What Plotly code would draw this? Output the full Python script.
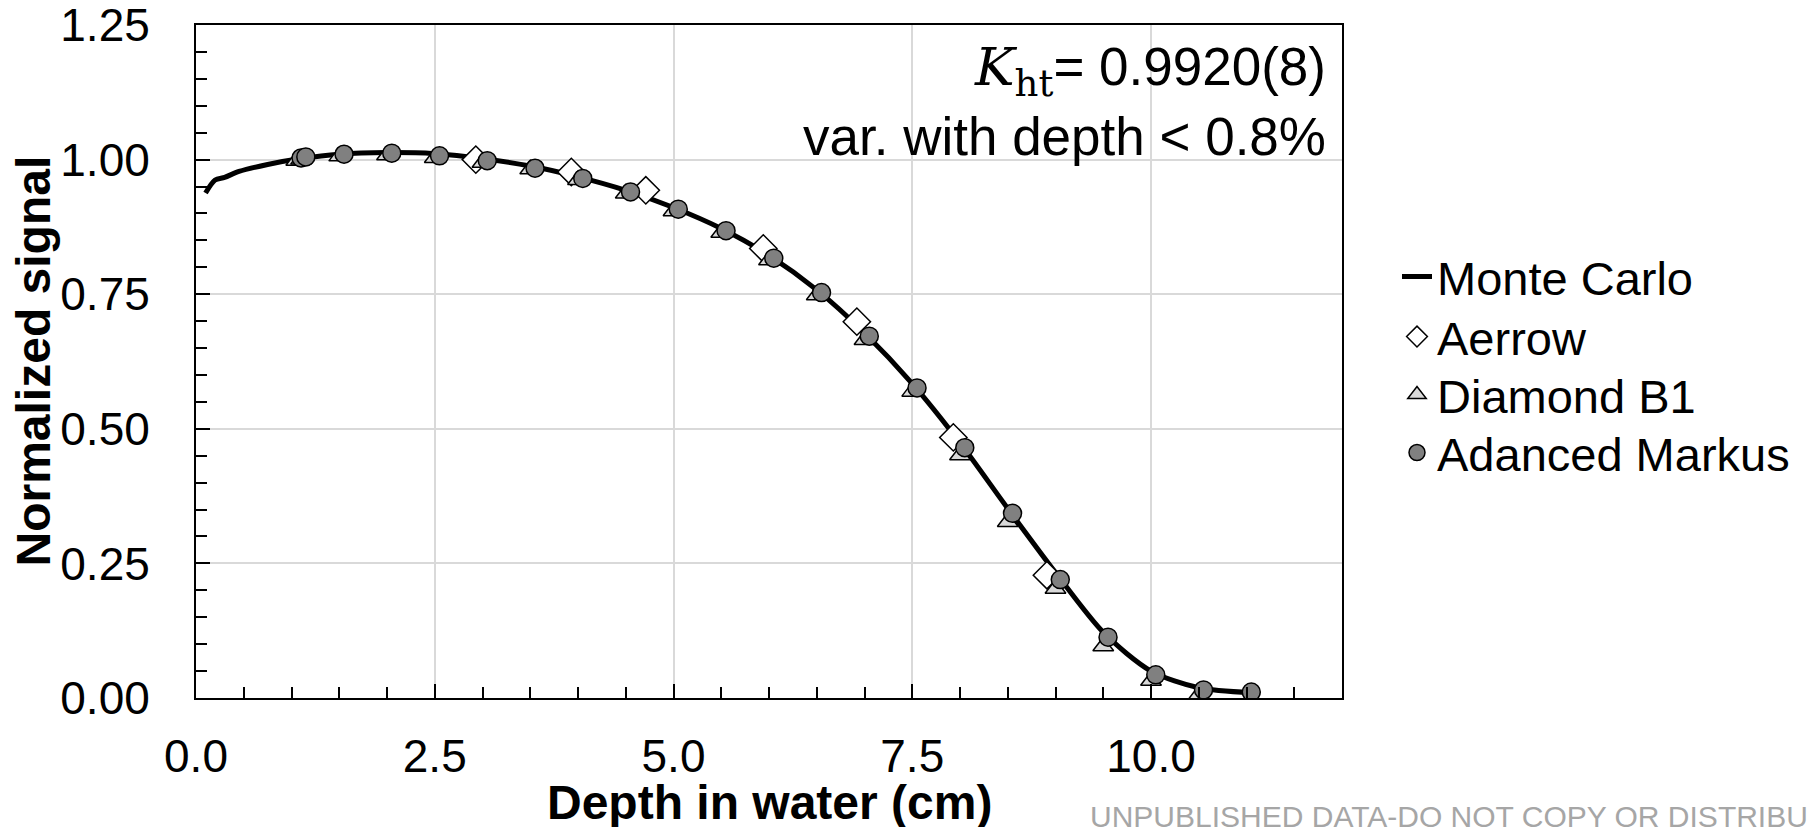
import plotly.graph_objects as go

# ---- data ----
mc_x = [0.10, 0.20, 0.30, 0.45, 0.75, 1.10, 1.50, 2.00, 2.50, 3.00, 3.50, 4.00, 4.50,
        5.00, 5.50, 6.00, 6.50, 7.00, 7.50, 8.00, 8.50, 9.00, 9.50, 10.00, 10.50, 11.05]
mc_y = [0.938, 0.962, 0.967, 0.978, 0.991, 1.002, 1.010, 1.013, 1.011, 1.002, 0.988, 0.968, 0.943,
        0.911, 0.872, 0.822, 0.758, 0.678, 0.584, 0.474, 0.352, 0.233, 0.122, 0.050, 0.019, 0.010]

aerrow_x = [2.93, 3.93, 4.71, 5.94, 6.92, 7.93, 8.91]
aerrow_y = [1.000, 0.977, 0.943, 0.835, 0.699, 0.484, 0.228]

b1_x = [1.05, 1.10, 1.50, 2.00, 2.50, 3.00, 3.50, 4.00, 4.50, 5.00, 5.50, 6.00, 6.50,
        7.00, 7.50, 8.00, 8.50, 9.00, 9.50, 10.00, 10.50]
b1_y = [0.998, 1.000, 1.006, 1.008, 1.003, 0.994, 0.982, 0.962, 0.937, 0.904, 0.864, 0.813, 0.748,
        0.665, 0.569, 0.451, 0.327, 0.203, 0.096, 0.032, 0.006]

markus_x = [1.10, 1.15, 1.55, 2.05, 2.55, 3.05, 3.55, 4.05, 4.55, 5.05, 5.55, 6.05, 6.55,
            7.05, 7.55, 8.05, 8.55, 9.05, 9.55, 10.05, 10.55, 11.05]
markus_y = [1.003, 1.005, 1.010, 1.012, 1.007, 0.998, 0.984, 0.965, 0.940, 0.908, 0.868, 0.817, 0.753,
            0.672, 0.576, 0.465, 0.343, 0.220, 0.113, 0.043, 0.015, 0.011]

x_ticks = [0.0, 2.5, 5.0, 7.5, 10.0]
y_ticks = [0.00, 0.25, 0.50, 0.75, 1.00, 1.25]

FONT = "Liberation Sans, Arial, sans-serif"

W, H = 1808, 827
ML, MR, MT, MB = 196, 466, 25, 129
PW = W - ML - MR
PH = H - MT - MB


def px(xp):
    return (xp - ML) / PW


def py(yp):
    return (H - MB - yp) / PH


fig = go.Figure()
fig.add_trace(go.Scatter(x=mc_x, y=mc_y, mode="lines", name="Monte Carlo", legend="legend",
                         line=dict(color="black", width=5, shape="spline", smoothing=0.8)))
fig.add_trace(go.Scatter(x=aerrow_x, y=aerrow_y, mode="markers", name="Aerrow", legend="legend2",
                         marker=dict(symbol="diamond", size=21, color="white",
                                     line=dict(color="black", width=1.5))))
fig.add_trace(go.Scatter(x=b1_x, y=b1_y, mode="markers", name="Diamond B1", legend="legend3",
                         marker=dict(symbol="triangle-up", size=18, color="#d9d9d9",
                                     line=dict(color="black", width=1.5))))
fig.add_trace(go.Scatter(x=markus_x, y=markus_y, mode="markers", name="Adanced Markus", legend="legend4",
                         marker=dict(symbol="circle", size=18, color="#808080",
                                     line=dict(color="black", width=1.5))))

leg_x = px(1397)
leg_common = dict(x=leg_x, xanchor="left", yanchor="middle",
                  font=dict(size=47, family=FONT, color="black"),
                  bgcolor="rgba(0,0,0,0)", itemwidth=30)

fig.update_layout(
    width=W, height=H,
    margin=dict(l=ML, r=MR, t=MT, b=MB, autoexpand=False),
    paper_bgcolor="white", plot_bgcolor="white",
    font=dict(family=FONT, size=46, color="black"),
    showlegend=True,
    legend=dict(y=py(277), **leg_common),
    legend2=dict(y=py(337), **leg_common),
    legend3=dict(y=py(395), **leg_common),
    legend4=dict(y=py(453), **leg_common),
)

fig.update_xaxes(
    range=[0, 12], tickvals=x_ticks, ticktext=[f"{v:.1f}" for v in x_ticks],
    showgrid=True, gridcolor="#d9d9d9", gridwidth=2,
    showline=True, linecolor="black", linewidth=2, mirror=True,
    ticks="inside", ticklen=14, tickwidth=2, tickcolor="black",
    ticklabelstandoff=17, zeroline=False, automargin=False, ticklabeloverflow="allow",
    tickfont=dict(size=46),
    minor=dict(dtick=0.5, tick0=0, ticks="inside", ticklen=11, tickwidth=2,
               tickcolor="black", showgrid=False),
)
fig.update_yaxes(
    range=[0, 1.25], tickvals=y_ticks, ticktext=[f"{v:.2f}" for v in y_ticks],
    showgrid=True, gridcolor="#d9d9d9", gridwidth=2,
    showline=True, linecolor="black", linewidth=2, mirror=True,
    ticks="inside", ticklen=14, tickwidth=2, tickcolor="black",
    ticklabelstandoff=35, zeroline=False, automargin=False, ticklabeloverflow="allow",
    tickfont=dict(size=46),
    minor=dict(dtick=0.05, tick0=0, ticks="inside", ticklen=11, tickwidth=2,
               tickcolor="black", showgrid=False),
)

# axis titles
fig.add_annotation(text="<b>Depth in water (cm)</b>", xref="paper", yref="paper",
                   x=0.5, y=py(803), xanchor="center", yanchor="middle",
                   showarrow=False, font=dict(size=48, family=FONT))
fig.add_annotation(text="<b>Normalized signal</b>", xref="paper", yref="paper",
                   x=px(33), y=0.5, xanchor="center", yanchor="middle", textangle=-90,
                   showarrow=False, font=dict(size=48, family=FONT))

# in-plot text
fig.add_annotation(
    text="<span style=\"font-family:'DejaVu Serif', 'Liberation Serif', serif\"><i>K</i><sub>ht</sub></span>= 0.9920(8)",
    xref="paper", yref="paper", x=px(1328), y=py(71), xanchor="right", yanchor="middle",
    showarrow=False, font=dict(size=53, family=FONT))
fig.add_annotation(
    text="var. with depth &lt; 0.8%",
    xref="paper", yref="paper", x=px(1328), y=py(136), xanchor="right", yanchor="middle",
    showarrow=False, font=dict(size=53, family=FONT))

# watermark
fig.add_annotation(
    text="UNPUBLISHED DATA-DO NOT COPY OR DISTRIBUTE",
    xref="paper", yref="paper", x=px(1088), y=py(816),
    xanchor="left", yanchor="middle", showarrow=False,
    font=dict(size=30, family=FONT, color="#a6a6a6"))

fig.write_html("out.html")
